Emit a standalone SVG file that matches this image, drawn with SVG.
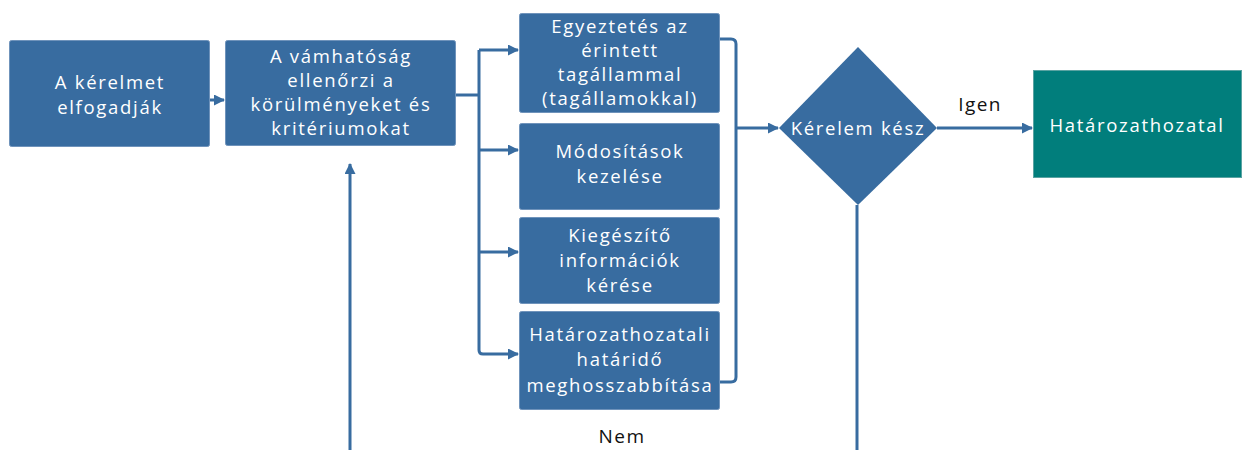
<svg xmlns="http://www.w3.org/2000/svg" width="1243" height="450" viewBox="0 0 1243 450">
<style>
.box{fill:#386ca0;stroke:#6f93bb;stroke-width:1}
.teal{fill:#017e7c;stroke:#5aa3a2;stroke-width:1}
.t{font-family:"Open Sans","Noto Sans",sans-serif;font-size:18.5px;fill:#ffffff;text-anchor:middle;letter-spacing:1.7px}
.lbl{font-family:"Open Sans","Noto Sans",sans-serif;font-size:19px;fill:#111111;text-anchor:middle;letter-spacing:1.4px}
.c{fill:none;stroke:#386ca0;stroke-width:3;stroke-linejoin:round}
</style>
<defs>
<marker id="ah" markerWidth="11" markerHeight="11" refX="10" refY="5.5" orient="auto" markerUnits="userSpaceOnUse">
<path d="M0,0 L11,5.5 L0,11 z" fill="#386ca0"/>
</marker>
</defs>
<rect x="0" y="0" width="1243" height="450" fill="#ffffff"/>
<g id="connectors">
<line class="c" x1="210" y1="100" x2="224" y2="100" marker-end="url(#ah)"/>
<path class="c" d="M456,95 H479"/>
<path class="c" d="M479,50 V350 Q479,354 483,354"/>
<path class="c" d="M479,50 H518" marker-end="url(#ah)"/>
<path class="c" d="M479,150 H518" marker-end="url(#ah)"/>
<path class="c" d="M479,252 H518" marker-end="url(#ah)"/>
<path class="c" d="M483,354 H518" marker-end="url(#ah)"/>
<path class="c" d="M720,39 H731 Q736,39 736,44 V377 Q736,382 731,382 H720"/>
<path class="c" d="M736,128 H778" marker-end="url(#ah)"/>
<path class="c" d="M937,128 H1032" marker-end="url(#ah)"/>
<path class="c" d="M857,205 V450"/>
<path class="c" d="M350,450 V164" marker-end="url(#ah)"/>
<text class="lbl" x="980" y="111">Igen</text>
<text class="lbl" x="622" y="443">Nem</text>
</g>
<g id="n1">
<rect class="box" x="9.5" y="40.5" width="200" height="106" rx="2"/>
<text class="t" x="110" y="89">A kérelmet</text>
<text class="t" x="110" y="114">elfogadják</text>
</g>
<g id="n2">
<rect class="box" x="225.5" y="40.5" width="230" height="105" rx="2"/>
<text class="t" x="341" y="63">A vámhatóság</text>
<text class="t" x="341" y="87">ellenőrzi a</text>
<text class="t" x="341" y="111">körülményeket és</text>
<text class="t" x="341" y="135">kritériumokat</text>
</g>
<g id="n3">
<rect class="box" x="519.5" y="13.5" width="200" height="99" rx="2"/>
<text class="t" x="620" y="33">Egyeztetés az</text>
<text class="t" x="620" y="57">érintett</text>
<text class="t" x="620" y="81">tagállammal</text>
<text class="t" x="620" y="105">(tagállamokkal)</text>
</g>
<g id="n4">
<rect class="box" x="519.5" y="123.5" width="200" height="86" rx="2"/>
<text class="t" x="620" y="158">Módosítások</text>
<text class="t" x="620" y="183">kezelése</text>
</g>
<g id="n5">
<rect class="box" x="519.5" y="217.5" width="200" height="86" rx="2"/>
<text class="t" x="620" y="242">Kiegészítő</text>
<text class="t" x="620" y="267">információk</text>
<text class="t" x="620" y="292">kérése</text>
</g>
<g id="n6">
<rect class="box" x="519.5" y="311.5" width="200" height="98" rx="2"/>
<text class="t" x="620" y="341">Határozathozatali</text>
<text class="t" x="620" y="366">határidő</text>
<text class="t" x="620" y="392">meghosszabbítása</text>
</g>
<g id="n7">
<path d="M858,47 L937,128 L858,205 L779,128 z" fill="#386ca0"/>
<text class="t" x="858" y="135">Kérelem kész</text>
</g>
<g id="n8">
<rect class="teal" x="1033.5" y="70.5" width="208" height="107"/>
<text class="t" x="1137" y="132">Határozathozatal</text>
</g>
</svg>
